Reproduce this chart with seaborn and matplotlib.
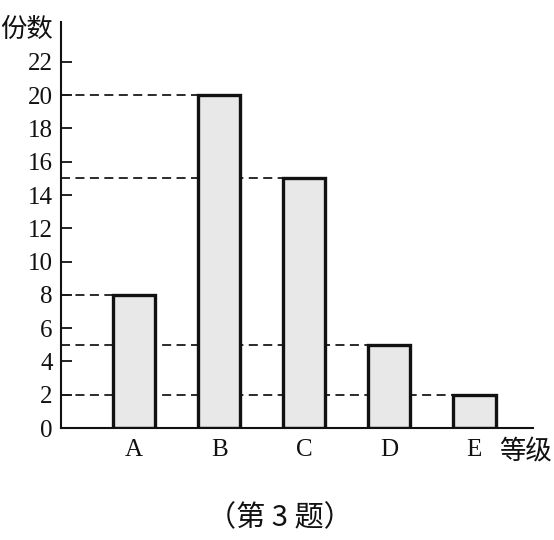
#!/usr/bin/env python3
"""Grade distribution bar chart with dashed guide lines."""

import matplotlib

matplotlib.use("Agg")

import matplotlib.pyplot as plt
import pandas as pd
import seaborn as sns

GRADES = ["A", "B", "C", "D", "E"]
COUNTS = [8, 20, 15, 5, 2]
Y_TICKS = list(range(0, 23, 2))

SERIF = ["Liberation Serif", "DejaVu Serif"]
CJK = ["Noto Sans CJK SC", "DejaVu Sans"]


def main() -> None:
    sns.set_theme(style="white")
    plt.rcParams["font.family"] = SERIF

    data = pd.DataFrame({"grade": GRADES, "count": COUNTS})

    fig = plt.figure(figsize=(5.54, 5.40), dpi=100)
    ax = fig.add_axes([0.110, 0.2074, 0.852, 0.7519])

    # dashed guide lines from the y axis to each bar's left edge
    bar_width = 0.5
    for pos, value in enumerate(COUNTS):
        ax.plot([-0.86, pos - bar_width / 2], [value, value], color="#1a1a1a",
                linestyle=(0, (5, 3)), linewidth=1.3, zorder=1)

    sns.barplot(data=data, x="grade", y="count", color="#e8e8e8", width=bar_width,
                edgecolor="#111111", linewidth=2.4, saturation=1, ax=ax, zorder=2)

    ax.set_xlim(-0.86, 4.69)
    ax.set_ylim(0, 24.4)
    ax.set_yticks(Y_TICKS)
    ax.set_xlabel("")
    ax.set_ylabel("")

    for side in ("top", "right"):
        ax.spines[side].set_visible(False)
    for side in ("left", "bottom"):
        ax.spines[side].set_linewidth(1.5)
        ax.spines[side].set_color("#111111")

    ax.tick_params(axis="y", direction="in", length=8, width=1.3, labelsize=18,
                   pad=6, left=True, colors="#111111")
    ax.tick_params(axis="x", length=0, labelsize=18, pad=8, colors="#111111")

    fig.text(0.0, 0.945, "份数", fontsize=19, family=CJK, color="#111111",
             ha="left", va="center")
    fig.text(0.996, 0.163, "等级", fontsize=19, family=CJK, color="#111111",
             ha="right", va="center")
    fig.text(0.505, 0.04, "（第 3 题）", fontsize=21, family=CJK, color="#111111",
             ha="center", va="center")

    fig.savefig("out.png", dpi=100, facecolor="white")
    plt.close(fig)


if __name__ == "__main__":
    main()
